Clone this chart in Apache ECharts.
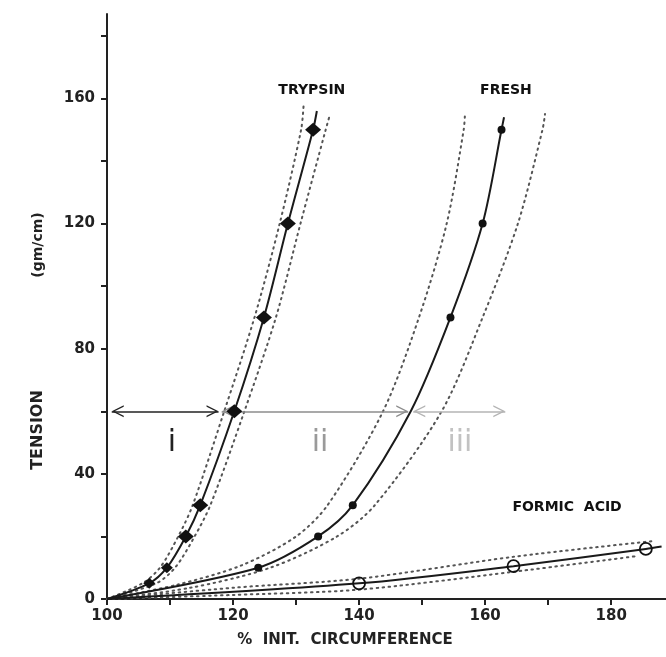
<!DOCTYPE html>
<html>
<head>
<meta charset="utf-8">
<script src="https://cdn.jsdelivr.net/npm/echarts@6/dist/echarts.min.js"></script>
<style>html,body{margin:0;padding:0;background:#fff;}#c{width:666px;height:657px;}</style>
</head>
<body>
<div id="c"></div>
<script>
// ---- data ----
var xTickValues = [100,110,120,130,140,150,160,170,180];
var xLabelValues = [100,120,140,160,180];
var yTickValues = [0,20,40,60,80,100,120,140,160,180];
var yLabelValues = [0,40,80,120,160];

// Trypsin
var trypsinLineX = [100,106.7,109.5,112.5,114.8,120.2,124.9,128.7,132.7,133.3];
var trypsinLineY = [0,5,10,20,30,60,90,120,150,156];
var trypsinPtX = [106.7,109.5,112.5,114.8,120.2,124.9,128.7,132.7];
var trypsinPtY = [5,10,20,30,60,90,120,150];
var trypsinLowX = [100,105.6,108.4,111.3,113.6,118.6,123.4,127.4,130.8,131.2];
var trypsinLowY = [0,5,10,20,30,60,90,120,150,158];
var trypsinHighX = [100,107.8,110.8,113.9,116.4,121.8,126.8,130.7,134.7,135.4];
var trypsinHighY = [0,5,10,20,30,60,90,120,150,155];

// Fresh
var freshLineX = [100,124,133.5,139,148.2,154.5,159.6,162.6,163];
var freshLineY = [0,10,20,30,60,90,120,150,154];
var freshPtX = [124,133.5,139,154.5,159.6,162.6];
var freshPtY = [10,20,30,90,120,150];
var freshLowX = [100,111,121.4,130,135,143.8,149.5,153.9,156.6,156.8];
var freshLowY = [0,4.5,10.8,20,30,60,90,120,150,155];
var freshHighX = [100,113,125.9,136.5,142.5,153.1,159.6,165.2,169.1,169.5];
var freshHighY = [0,3.5,10,20,30,60,90,120,150,155];

// Formic acid
var formicLineX = [100,140,164.5,185.5,188];
var formicLineY = [0,5,10.5,16,16.8];
var formicPtX = [140,164.5,185.5];
var formicPtY = [5,10.5,16];
var formicHighX = [100,120,140,164.5,187];
var formicHighY = [0,3.6,6.5,13.5,18.6];
var formicLowX = [100,120,140,164.5,184];
var formicLowY = [0,1.3,3,8.7,13.7];

// Curve labels
var curveNames = ['TRYPSIN','FRESH','FORMIC  ACID'];
var curveNameX = [132.5,163.3,173];
var curveNameY = [162.6,162.6,29.4];

// Regions (arrows at tension 60)
var regionNames = ['i','ii','iii'];
var regionLabelX = [110.3,133.8,156];
var regionLabelY = [49.8,49.8,49.8];
var regionFromX = [100.75,118.2,148.6];
var regionToX = [117.7,147.8,163.2];
var regionY = 60;
var regionColors = ['#222','#8c8c8c','#b4b4b4'];
var regionTextColors = ['#222','#9a9a9a','#c2c2c2'];

function pairs(xs, ys){ return xs.map(function(x,i){ return [x, ys[i]]; }); }

// open chevron with its tip at the symbol centre
var chev = 'path://M4.95,-10 L5.05,-10 L5,-9.95 Z M5,0 L10,10 L8.8,10 L5,2.4 L1.2,10 L0,10 Z';
var font = 'DejaVu Sans';

function band(name, xs, ys){
  return {type:'line', name:name, data:pairs(xs,ys), showSymbol:false, symbol:'none', smooth:0.3,
    lineStyle:{color:'#555', width:2, type:[1.5,4.5], cap:'round'}, silent:true, z:2};
}
function mainLine(name, xs, ys){
  return {type:'line', name:name, data:pairs(xs,ys), showSymbol:false, symbol:'none', smooth:0.3,
    lineStyle:{color:'#1a1a1a', width:2}, silent:true, z:3};
}

var chart = echarts.init(document.getElementById('c'), null, {renderer:'canvas'});
var option = {
  animation:false,
  backgroundColor:'#fff',
  grid:{left:107, right:0, top:14, bottom:58, containLabel:false},
  xAxis:{type:'value', min:100, max:188.7,
    axisLine:{lineStyle:{color:'#222', width:2}},
    axisTick:{show:true, length:6, lineStyle:{color:'#222', width:2}, customValues:xTickValues},
    axisLabel:{customValues:xLabelValues, fontFamily:font, fontWeight:'bold', fontSize:15, color:'#222', margin:10},
    splitLine:{show:false}},
  yAxis:{type:'value', min:0, max:187,
    axisLine:{lineStyle:{color:'#222', width:2}},
    axisTick:{show:true, length:6, lineStyle:{color:'#222', width:2}, customValues:yTickValues},
    axisLabel:{customValues:yLabelValues, fontFamily:font, fontWeight:'bold', fontSize:15, color:'#222', margin:12},
    splitLine:{show:false}},
  graphic:[
    {type:'text', x:38, y:430, rotation:Math.PI/2,
     style:{text:'TENSION', fontFamily:font, fontWeight:'bold', fontSize:16, fill:'#222', align:'center', verticalAlign:'middle'}},
    {type:'text', x:38, y:245, rotation:Math.PI/2,
     style:{text:'(gm/cm)', fontFamily:font, fontWeight:'bold', fontSize:14, fill:'#222', align:'center', verticalAlign:'middle'}},
    {type:'text', x:345, y:640,
     style:{text:'%  INIT.  CIRCUMFERENCE', fontFamily:font, fontWeight:'bold', fontSize:15, fill:'#222', align:'center', verticalAlign:'middle'}}
  ],
  series:[
    band('trypsin low', trypsinLowX, trypsinLowY),
    band('trypsin high', trypsinHighX, trypsinHighY),
    band('fresh low', freshLowX, freshLowY),
    band('fresh high', freshHighX, freshHighY),
    band('formic high', formicHighX, formicHighY),
    band('formic low', formicLowX, formicLowY),
    mainLine('Trypsin', trypsinLineX, trypsinLineY),
    mainLine('Fresh', freshLineX, freshLineY),
    mainLine('Formic acid', formicLineX, formicLineY),
    {type:'scatter', name:'Trypsin pts', data:pairs(trypsinPtX,trypsinPtY), symbol:'diamond',
     symbolSize:function(v){ return v[1] < 15 ? [12,11] : [16,14]; },
     itemStyle:{color:'#111', opacity:1}, z:5, silent:true},
    {type:'scatter', name:'Fresh pts', data:pairs(freshPtX,freshPtY), symbol:'circle', symbolSize:8,
     itemStyle:{color:'#111', opacity:1}, z:5, silent:true},
    {type:'scatter', name:'Formic pts', data:pairs(formicPtX,formicPtY), symbol:'circle', symbolSize:12,
     itemStyle:{color:'rgba(0,0,0,0)', borderColor:'#111', borderWidth:1.8, opacity:1}, z:5, silent:true},
    {type:'scatter', name:'curve names', symbolSize:0, silent:true, z:6, itemStyle:{opacity:1},
     data:curveNames.map(function(n,i){ return {name:n, value:[curveNameX[i], curveNameY[i]]}; }),
     label:{show:true, position:[0,0], align:'center', verticalAlign:'middle', formatter:'{b}',
       fontFamily:font, fontWeight:'bold', fontSize:14, color:'#111'}},
    {type:'scatter', name:'region names', symbolSize:0, silent:true, z:6, itemStyle:{opacity:1},
     data:regionNames.map(function(n,i){ return {name:n, value:[regionLabelX[i], regionLabelY[i]],
       label:{color:regionTextColors[i]}}; }),
     label:{show:true, position:[0,0], align:'center', verticalAlign:'middle', formatter:'{b}',
       fontFamily:'DejaVu Sans', fontWeight:'normal', fontSize:30}},
    {type:'line', name:'arrows', data:[], silent:true, z:4,
     markLine:{silent:true, animation:false, symbol:[chev, chev], symbolSize:[12,24], label:{show:false},
       emphasis:{disabled:true},
       data:regionNames.map(function(n,i){
         return [{coord:[regionFromX[i], regionY], lineStyle:{color:regionColors[i], width:1.5, type:'solid'}},
                 {coord:[regionToX[i], regionY]}];
       })}}
  ]
};
chart.setOption(option);
</script>
</body>
</html>
